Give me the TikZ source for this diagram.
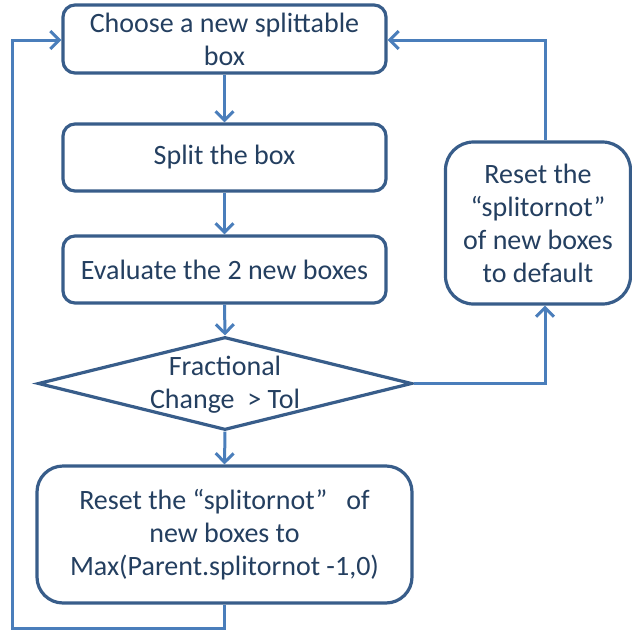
\documentclass[tikz,border=0pt]{standalone}
\usepackage{fontspec}
\setmainfont{Carlito}
\usetikzlibrary{arrows.meta,shapes.geometric}
\definecolor{boxline}{RGB}{56,93,138}
\definecolor{flowline}{RGB}{74,126,187}
\definecolor{boxtext}{RGB}{36,63,96}
\begin{document}
\begin{tikzpicture}[x=1pt,y=-1pt,
  every node/.style={text=boxtext,font=\fontsize{28}{33}\selectfont,align=center,inner sep=0pt},
  stepbox/.style={draw=boxline,line width=3.2pt,rounded corners=12pt,fill=white},
  bigbox/.style={stepbox,rounded corners=28pt},
  decision/.style={diamond,draw=boxline,line width=3.2pt,fill=white},
  flow/.style={draw=flowline,line width=3pt,
    -{Straight Barb[length=9pt,width=18pt,line width=3pt]}}]
\useasboundingbox (0,0) rectangle (632,633);

% main column
\node[stepbox,minimum width=323pt,minimum height=68pt] (choose) at (224.5,39)
  {Choose a new splittable\\box};
\node[stepbox,minimum width=323pt,minimum height=67pt] (split) at (224.5,157.5)
  {Split the box};
\node[stepbox,minimum width=323pt,minimum height=67pt] (eval) at (224.5,269.5)
  {Evaluate the 2 new boxes};
\node[decision,minimum width=374pt,minimum height=93pt] (test) at (225,383.5) {};
\node (testlabel) at (225,385) {Fractional\\Change\ \ > Tol};
\node[bigbox,rounded corners=26pt,minimum width=375pt,minimum height=137pt] (limit) at (224.5,534.5)
  {Reset the “splitornot”\ \ \ of\\new boxes to\\Max(Parent.splitornot -1,0)};

% right-hand branch
\node[bigbox,minimum width=185pt,minimum height=162pt] (default) at (538,223)
  {Reset the\\“splitornot”\\of new boxes\\to default};

% straight connectors
\draw[flow] (choose.south) -- (split.north);
\draw[flow] (split.south) -- (eval.north);
\draw[flow] (eval.south) -- (test.north);
\draw[flow] (test.south) -- (limit.north);

% right loop
\coordinate (rturn) at (545,383.5);
\coordinate (rtop) at (545,40);
\draw[flow] (test.east) -- (rturn) -- (default.south -| rturn);
\draw[flow] (default.north -| rtop) -- (rtop) -- (choose.east |- rtop);

% left loop
\coordinate (lbot) at (224.5,628);
\coordinate (lcorner) at (12,628);
\coordinate (ltop) at (12,40);
\draw[flow] (limit.south) -- (lbot) -- (lcorner) -- (ltop) -- (choose.west |- ltop);
\end{tikzpicture}
\end{document}
